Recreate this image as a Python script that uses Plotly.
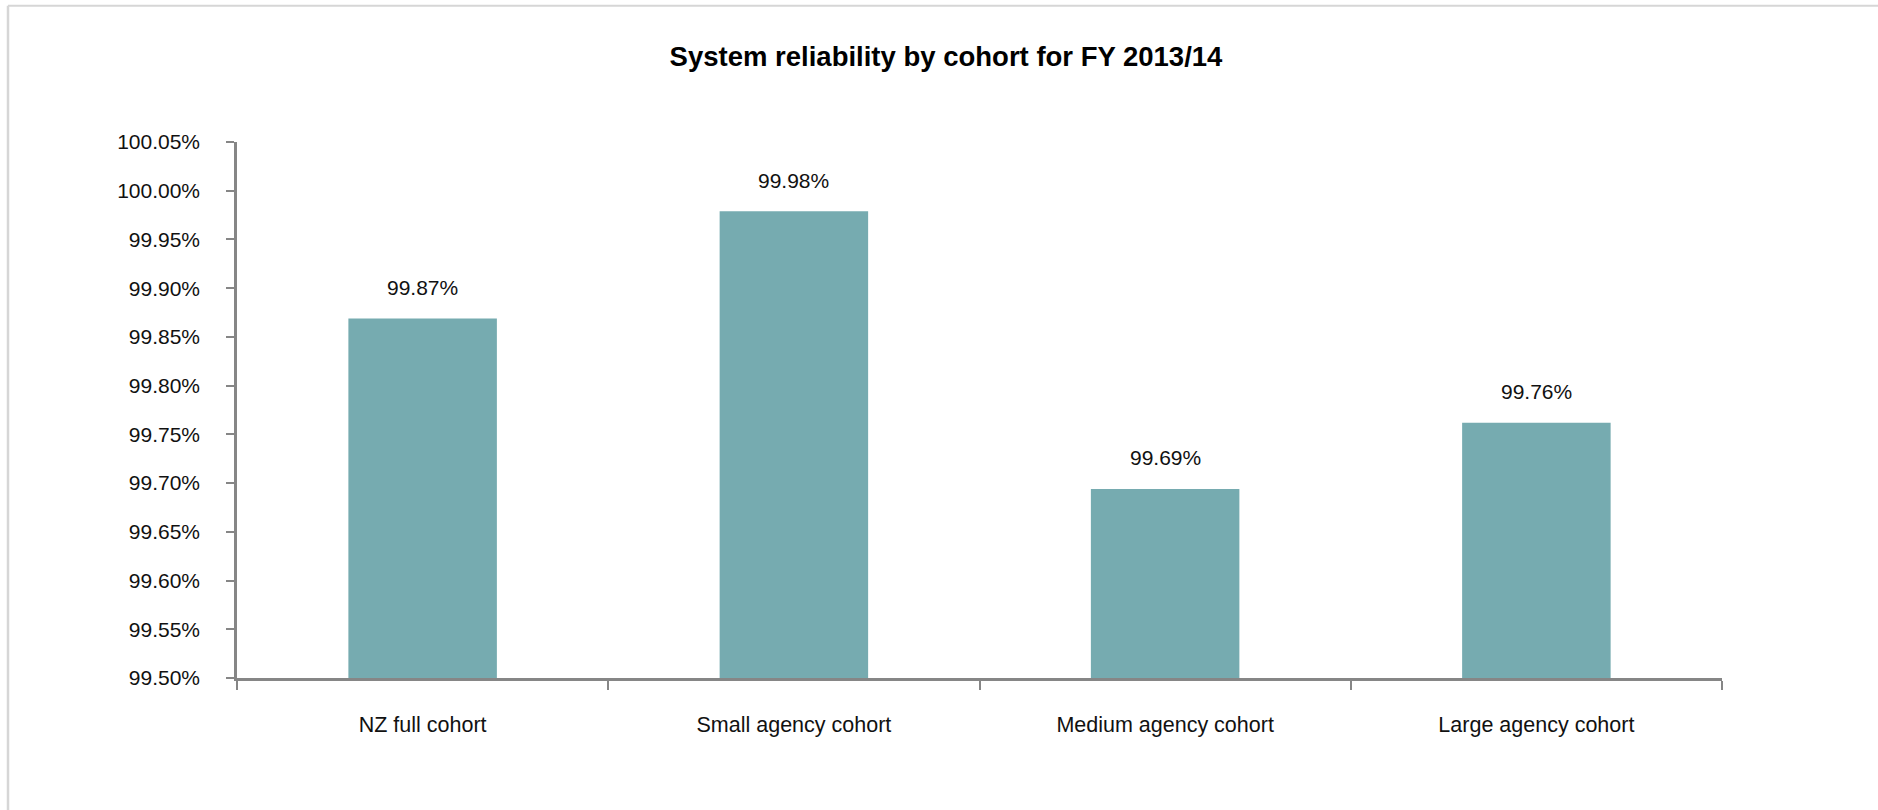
import plotly.graph_objects as go

categories = ["NZ full cohort", "Small agency cohort", "Medium agency cohort", "Large agency cohort"]
values = [99.869, 99.979, 99.694, 99.762]
labels = ["99.87%", "99.98%", "99.69%", "99.76%"]
title_text = "System reliability by cohort for FY 2013/14"

W, H = 1878, 810
L, R, T, B = 237, 156, 141.5, 131.5
pw, ph = W - L - R, H - T - B

FONT = "Liberation Sans, Arial, sans-serif"
AXIS_COLOR = "#868686"
BAR_COLOR = "#76ABB0"

fig = go.Figure()
fig.add_trace(go.Bar(
    x=categories, y=values, marker=dict(color=BAR_COLOR, line=dict(width=0)),
    width=0.4, hoverinfo="skip", showlegend=False,
))

for c, v, t in zip(categories, values, labels):
    fig.add_annotation(x=c, y=v, text=t, showarrow=False, yanchor="middle",
                       yshift=31, font=dict(family=FONT, size=21, color="#111111"))

# light frame (top and left edges)
def px_to_paper_x(px):
    return (px - L) / pw

def py_to_paper_y(py):
    return (H - B - py) / ph

fig.add_shape(type="line", xref="paper", yref="paper",
              x0=px_to_paper_x(8), x1=px_to_paper_x(1880),
              y0=py_to_paper_y(5), y1=py_to_paper_y(5),
              line=dict(color="#D6D6D6", width=2))
fig.add_shape(type="line", xref="paper", yref="paper",
              x0=px_to_paper_x(8), x1=px_to_paper_x(8),
              y0=py_to_paper_y(5), y1=py_to_paper_y(812),
              line=dict(color="#D6D6D6", width=2.5))

fig.update_layout(
    width=W, height=H,
    margin=dict(l=L, r=R, t=T, b=B, autoexpand=False),
    paper_bgcolor="white", plot_bgcolor="white",
    title=dict(text="<b>" + title_text + "</b>", x=946 / W, xref="container", xanchor="center",
               y=1 - 56 / H, yref="container", yanchor="middle",
               font=dict(family=FONT, size=27.5, color="#000000")),
    bargap=0.6,
    font=dict(family=FONT, size=21, color="#111111"),
)
fig.update_xaxes(
    type="category", showgrid=False, zeroline=False,
    showline=True, linecolor=AXIS_COLOR, linewidth=2.5,
    ticks="outside", tickson="boundaries", ticklen=9, tickcolor=AXIS_COLOR, tickwidth=2,
    tickfont=dict(family=FONT, size=21.5, color="#111111"),
    ticklabelstandoff=25,
)
fig.update_yaxes(
    range=[99.5, 100.05], dtick=0.05, tick0=99.5, tickformat=".2f", ticksuffix="%",
    showgrid=False, zeroline=False,
    showline=True, linecolor=AXIS_COLOR, linewidth=2.5,
    ticks="outside", ticklen=8, tickcolor=AXIS_COLOR, tickwidth=2,
    tickfont=dict(family=FONT, size=21, color="#111111"),
    ticklabelstandoff=22,
)

fig.write_html("out.html")
